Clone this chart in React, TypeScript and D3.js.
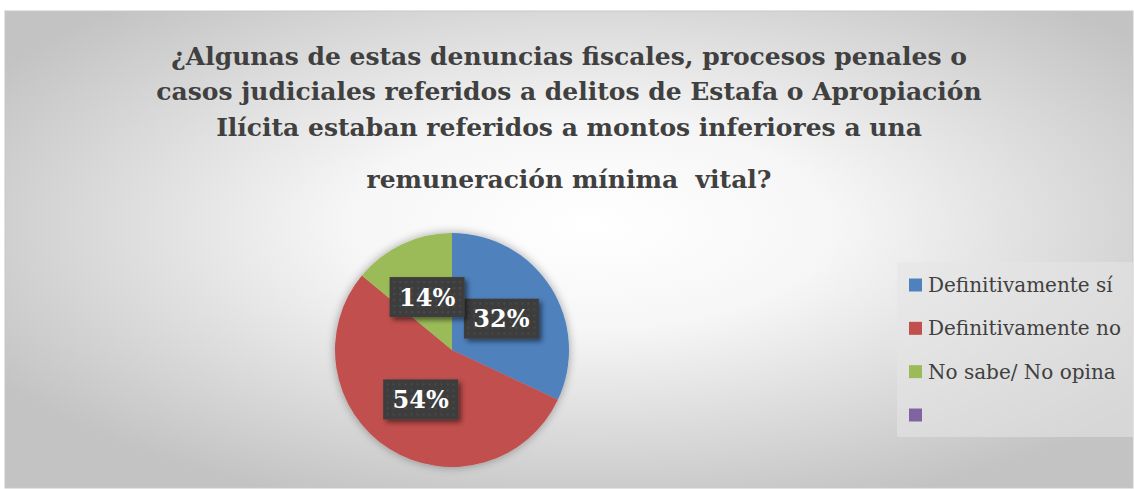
import React from "react";
import * as d3 from "d3";

const titleLines = [
  "¿Algunas de estas denuncias fiscales, procesos penales o",
  "casos judiciales referidos a delitos de Estafa o Apropiación",
  "Ilícita estaban referidos a montos inferiores a una",
  "remuneración mínima  vital?",
];
const categories = ["Definitivamente sí", "Definitivamente no", "No sabe/ No opina", ""];
const values = [32, 54, 14, 0];
const colors = ["#4f81bd", "#c0504d", "#9bbb59", "#8064a2"];

const W = 1134;
const H = 489;

export default function App() {
  const cx = 452;
  const cy = 350;
  const r = 117;
  const pie = d3.pie<number>().sort(null).value((d) => d)(values);
  const arc = d3.arc<d3.PieArcDatum<number>>().innerRadius(0).outerRadius(r);
  const labelArc = d3.arc<d3.PieArcDatum<number>>().innerRadius(0).outerRadius(r);
  const total = d3.sum(values);
  const titleY = [65, 100, 136, 188];
  const legendY = d3.scalePoint<number>().domain(d3.range(categories.length)).range([285, 415]);

  return (
    <svg
      width={W}
      height={H}
      style={{ position: "absolute", left: 0, top: 0, background: "#fff" }}
    >
      <defs>
        <radialGradient id="bg" cx="0.52" cy="0.45" r="0.62">
          <stop offset="0" stopColor="#ffffff" />
          <stop offset="0.35" stopColor="#f6f6f6" />
          <stop offset="1" stopColor="#c3c3c3" />
        </radialGradient>
        <filter id="pieShadow" x="-20%" y="-20%" width="140%" height="140%">
          <feGaussianBlur in="SourceAlpha" stdDeviation="5" />
          <feOffset dx="0" dy="0" result="b" />
          <feComponentTransfer>
            <feFuncA type="linear" slope="0.35" />
          </feComponentTransfer>
          <feMerge>
            <feMergeNode />
            <feMergeNode in="SourceGraphic" />
          </feMerge>
        </filter>
        <filter id="boxShadow" x="-20%" y="-20%" width="150%" height="160%">
          <feGaussianBlur in="SourceAlpha" stdDeviation="2.5" />
          <feOffset dx="3" dy="3" />
          <feComponentTransfer>
            <feFuncA type="linear" slope="0.5" />
          </feComponentTransfer>
          <feMerge>
            <feMergeNode />
            <feMergeNode in="SourceGraphic" />
          </feMerge>
        </filter>
        <pattern id="dots" width="6" height="6" patternUnits="userSpaceOnUse">
          <rect width="6" height="6" fill="#3e3e3e" />
          <circle cx="3" cy="3" r="1" fill="#4c4c4c" />
        </pattern>
      </defs>

      <rect x={5} y={11} width={1128} height={477} fill="url(#bg)" stroke="#c8c8c8" strokeWidth={1} />

      <g
        fontFamily="'DejaVu Serif', serif"
        fontWeight="bold"
        fontSize={25}
        fill="#404040"
        textAnchor="middle"
      >
        {titleLines.map((t, i) => (
          <text key={i} x={569} y={titleY[i]} style={{ whiteSpace: "pre" }}>
            {t}
          </text>
        ))}
      </g>

      <g transform={`translate(${cx},${cy})`}>
        <g filter="url(#pieShadow)">
          {pie.map((p, i) =>
            p.value > 0 ? <path key={i} d={arc(p) || ""} fill={colors[i]} /> : null
          )}
        </g>
        {pie.map((p, i) => {
          if (p.value <= 0) return null;
          const [lx, ly] = labelArc.centroid(p);
          const label = `${Math.round((p.value / total) * 100)}%`;
          return (
            <g key={i} transform={`translate(${lx},${ly})`}>
              <rect x={-37.5} y={-20} width={75} height={40} fill="url(#dots)" filter="url(#boxShadow)" />
              <text
                y={8.5}
                textAnchor="middle"
                fontFamily="'DejaVu Serif', serif"
                fontWeight="bold"
                fontSize={24}
                fill="#ffffff"
              >
                {label}
              </text>
            </g>
          );
        })}
      </g>

      <rect x={897} y={262} width={236} height={175} fill="#e5e5e5" fillOpacity={0.58} />
      <g fontFamily="'DejaVu Serif', serif" fontSize={20} fill="#404040">
        {categories.map((c, i) => (
          <g key={i} transform={`translate(909,${legendY(i)})`}>
            <rect x={0} y={-6.5} width={13} height={13} fill={colors[i]} />
            <text x={19} y={7}>{c}</text>
          </g>
        ))}
      </g>
    </svg>
  );
}
